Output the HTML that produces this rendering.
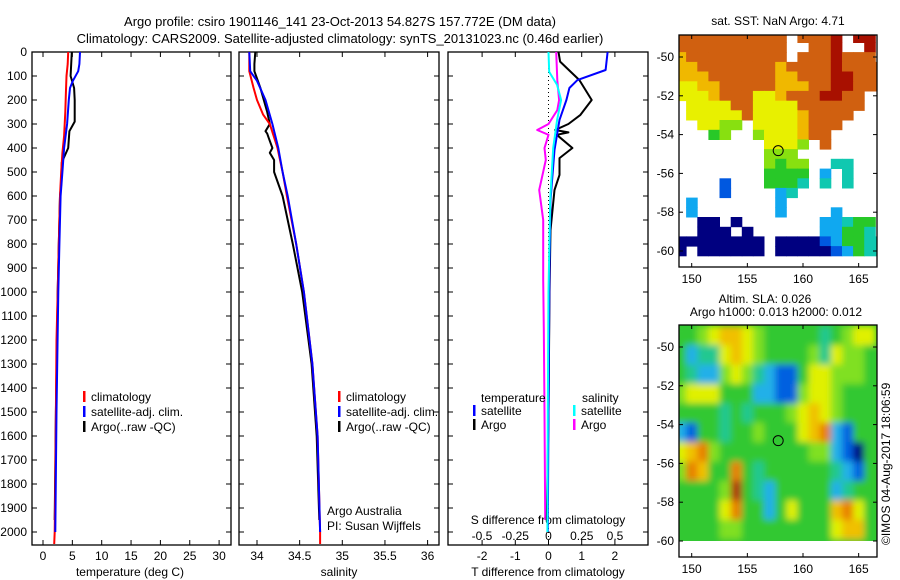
<!DOCTYPE html>
<html><head><meta charset="utf-8">
<style>
body{margin:0;background:#fff;}
svg{display:block;font-family:"Liberation Sans",sans-serif;font-size:12px;}
text{fill:#000;}
</style></head>
<body>
<svg id="fig" width="900" height="580" viewBox="0 0 900 580" xmlns="http://www.w3.org/2000/svg">
<text x="340" y="26" text-anchor="middle" font-size="13">Argo profile: csiro 1901146_141 23-Oct-2013 54.827S 157.772E (DM data)</text>
<text x="340" y="43" text-anchor="middle" font-size="13">Climatology: CARS2009. Satellite-adjusted climatology: synTS_20131023.nc (0.46d earlier)</text>
<g id="g1"></g>
<g id="g2"></g>
<g id="g3"></g>
<g id="g4"></g>
<g id="g5"></g>
<text transform="translate(890,545) rotate(-90)" font-size="12">©IMOS 04-Aug-2017 18:06:59</text>
</svg>
<script>
// ---- data ----
const tempClimDepth=[0,50,100,170,250,350,420,500,600,800,1000,1200,1500,1800,2000,2050];
const tempClim=[4.3,4.2,4.0,3.9,3.8,3.6,3.3,3.1,2.9,2.7,2.5,2.3,2.2,2.1,2.0,1.9];
const tempSatDepth=[0,50,80,120,150,200,300,400,500,600,800,1000,1500,2000];
const tempSat=[6.3,6.2,6.0,5.1,4.6,4.4,4.1,3.6,3.3,3.0,2.8,2.6,2.3,2.1];
const tempArgoDepth=[0,50,100,150,200,290,330,400,460,550,600,800,1000,1500,1950];
const tempArgo=[4.9,4.8,4.7,5.3,5.4,5.4,4.5,4.3,3.2,3.1,2.9,2.7,2.5,2.2,2.0];
const salClimDepth=[0,80,150,200,260,300,400,500,600,800,1000,1300,1600,2000,2050];
const salClim=[33.91,33.91,33.96,34.0,34.07,34.15,34.24,34.3,34.35,34.46,34.55,34.65,34.71,34.74,34.74];
const salSatDepth=[0,80,120,200,300,400,500,600,800,1000,1300,1600,2000];
const salSat=[33.91,33.92,34.0,34.1,34.18,34.25,34.3,34.36,34.46,34.55,34.65,34.71,34.74];
const salArgoDepth=[0,50,80,100,150,200,250,300,330,340,360,400,420,450,500,600,800,1000,1300,1600,1950];
const salArgo=[33.98,33.97,33.97,33.99,34.04,34.08,34.12,34.15,34.1,34.12,34.14,34.18,34.15,34.2,34.2,34.3,34.42,34.53,34.64,34.7,34.73];
const dTSatDepth=[0,75,117,150,200,283,408,617,900,1500,2000];
const dTSat=[1.78,1.72,0.87,0.63,0.54,0.33,0.18,0.06,0.03,0.0,-0.02];
const dTArgoDepth=[0,40,117,200,262,300,325,335,345,400,442,512,575,742,1000,1500,1950];
const dTArgo=[0.3,0.35,0.93,1.3,0.96,0.6,0.2,0.6,0.25,0.72,0.33,0.33,0.18,0.06,0.03,0.0,-0.05];
const dSSatDepth=[0,83,137,200,283,400,617,1000,1500,2000];
const dSSat=[0,0.005,0.065,0.095,0.065,0.035,0.013,0.0,-0.005,-0.008];
const dSArgoDepth=[0,117,200,242,300,325,345,400,450,575,700,950,1150,1500,1950];
const dSArgo=[0.058,0.066,0.08,0.066,0.0,-0.085,0.0,-0.03,-0.02,-0.07,-0.04,-0.04,-0.035,-0.03,-0.025];
const depthTicks=[0,100,200,300,400,500,600,700,800,900,1000,1100,1200,1300,1400,1500,1600,1700,1800,1900,2000];
const tempTicks=[0,5,10,15,20,25,30];
const salTicks=[34,34.5,35,35.5,36];
const salTickLabels=["34","34.5","35","35.5","36"];
const dTTicks=[-2,-1,0,1,2];
const dSTicks=[-0.5,-0.25,0,0.25,0.5];
const dSTickLabels=["-0.5","-0.25","0","0.25","0.5"];
const mapLonTicks=[150,155,160,165];
const mapLatTicks=[-50,-52,-54,-56,-58,-60];
const sstRowsTopLat=-48.75;
const sstRows=[
"8888888888.8889.99.",
"8888888888..889..9.",
"7888888888.8889888.",
"7788888887888898888",
"7778888887788899888",
"6677888887778899888",
"66678886678889988..",
".6666886666888888..",
".666668666678888...",
"..6655.66667888....",
"...45..5666788.....",
"........6665.8.....",
"........555........",
"........5455..33...",
"........4444.2.3...",
"....1...4443.3.3...",
"....1....23........",
".2.......2.........",
".2.......2....2....",
"..00.0.......22344.",
"..000.0......22443.",
"00000000.0000124433",
"0.000000.0000012433",
"..................."];
const slaRows=[
"445677654444434566",
"423367654444536554",
"432256532114665554",
"566644422115665444",
"444434344456765444",
"214434454446782144",
"678544444444552104",
"587448434444443214",
"444459432444442344",
"444468442464447864",
"444455444444446774",
"444444444444444444"];
const argoLon=[157.772], argoLat=[-54.827];
const cmap=['#000080','#0058e0','#10a8f0','#10c8b0','#28c828','#88e010','#e8f000','#f0b800','#d06010','#a81000'];
const slamap=['#000080','#0060e0','#20b0e8','#20c890','#30c830','#80e020','#e0f000','#f0c000','#e88000','#b03010'];

// ---- helpers ----
const NS='http://www.w3.org/2000/svg';
function mk(tag,attrs,parent,txt){const e=document.createElementNS(NS,tag);for(const k in attrs)e.setAttribute(k,attrs[k]);if(txt!==undefined)e.textContent=txt;parent.appendChild(e);return e;}
const Y0=52,DPX=0.24,YB=545;
const yD=d=>Y0+d*DPX;
function panelFrame(g,x0,x1){
  const r=mk('rect',{x:x0,y:Y0,width:x1-x0,height:YB-Y0,fill:'none',stroke:'#000','stroke-width':1.3},g);
  
  
  depthTicks.forEach(d=>{
    const t=mk('line',{x1:x0,x2:x0+5,y1:yD(d),y2:yD(d),stroke:'#000'},g);
    
    
    const t2=mk('line',{x1:x1-5,x2:x1,y1:yD(d),y2:yD(d),stroke:'#000'},g);
    
    
  });
}
function line(g,depths,vals,xf,color,name,w){
  const pts=depths.map((d,i)=>xf(vals[i]).toFixed(1)+','+yD(d).toFixed(1)).join(' ');
  const p=mk('polyline',{points:pts,fill:'none',stroke:color,'stroke-width':w||2,'stroke-linejoin':'round'},g);
  
  
}
function legend(g,x,y,color,label,name){
  const m=mk('rect',{x:x,y:y-6,width:2.5,height:11,fill:color},g);
  
  
  const t=mk('text',{x:x+8,y:y+4},g,label);
  
  
}

// ---- panel 1 temperature ----
const g1=document.getElementById('g1');
const xT=t=>43+t*5.87;
panelFrame(g1,32,231);
depthTicks.forEach(d=>{const t=mk('text',{x:27,y:yD(d)+4,'text-anchor':'end'},g1,String(d));
  
  });
tempTicks.forEach(v=>{
  const l=mk('line',{x1:xT(v),x2:xT(v),y1:YB-5,y2:YB,stroke:'#000'},g1);
  
  
  const l2=mk('line',{x1:xT(v),x2:xT(v),y1:Y0,y2:Y0+5,stroke:'#000'},g1);
  
  
  const t=mk('text',{x:xT(v),y:560,'text-anchor':'middle'},g1,String(v));
  
  
});
{const t=mk('text',{x:130,y:576,'text-anchor':'middle'},g1,'temperature (deg C)');

}
line(g1,tempArgoDepth,tempArgo,xT,'#000','temp-argo-line');
line(g1,tempClimDepth,tempClim,xT,'#f00','temp-climatology-line');
line(g1,tempSatDepth,tempSat,xT,'#00f','temp-satellite-line');
legend(g1,83,397,'#f00','climatology','legend-climatology');
legend(g1,83,412,'#00f','satellite-adj. clim.','legend-satellite');
legend(g1,83,427,'#000','Argo(..raw -QC)','legend-argo');

// ---- panel 2 salinity ----
const g2=document.getElementById('g2');
const xS=s=>257+(s-34)*85.3;
panelFrame(g2,239,439);
salTicks.forEach((v,i)=>{
  const l=mk('line',{x1:xS(v),x2:xS(v),y1:YB-5,y2:YB,stroke:'#000'},g2);
  
  
  const l2=mk('line',{x1:xS(v),x2:xS(v),y1:Y0,y2:Y0+5,stroke:'#000'},g2);
  
  
  const t=mk('text',{x:xS(v),y:560,'text-anchor':'middle'},g2,salTickLabels[i]);
  
  
});
{const t=mk('text',{x:339,y:576,'text-anchor':'middle'},g2,'salinity');

}
line(g2,salArgoDepth,salArgo,xS,'#000','sal-argo-line');
line(g2,salClimDepth,salClim,xS,'#f00','sal-climatology-line');
line(g2,salSatDepth,salSat,xS,'#00f','sal-satellite-line');
legend(g2,338,397,'#f00','climatology','legend-climatology');
legend(g2,338,412,'#00f','satellite-adj. clim.','legend-satellite');
legend(g2,338,427,'#000','Argo(..raw -QC)','legend-argo');
{const t=mk('text',{x:327,y:515},g2,'Argo Australia');
 const t2=mk('text',{x:327,y:530},g2,'PI: Susan Wijffels');}

// ---- panel 3 differences ----
const g3=document.getElementById('g3');
const X0=548.5;
const xdT=v=>X0+v*33.2, xdS=v=>X0+v*133;
panelFrame(g3,448,648);
{const z=mk('line',{x1:X0,x2:X0,y1:Y0,y2:YB,stroke:'#000','stroke-dasharray':'1,3'},g3);
}
dTTicks.forEach(v=>{
  const l=mk('line',{x1:xdT(v),x2:xdT(v),y1:YB-5,y2:YB,stroke:'#000'},g3);
  
  
  const l2=mk('line',{x1:xdT(v),x2:xdT(v),y1:Y0,y2:Y0+5,stroke:'#000'},g3);
  
  
  const t=mk('text',{x:xdT(v),y:560,'text-anchor':'middle'},g3,String(v));
  
  
});
dSTicks.forEach((v,i)=>{
  const t=mk('text',{x:xdS(v),y:540,'text-anchor':'middle'},g3,dSTickLabels[i]);
  
  
});
{const t=mk('text',{x:548,y:576,'text-anchor':'middle'},g3,'T difference from climatology');

const t2=mk('text',{x:548,y:524,'text-anchor':'middle'},g3,'S difference from climatology');
}
line(g3,dSArgoDepth,dSArgo,xdS,'#f0f','s-diff-argo-line');
line(g3,dTArgoDepth,dTArgo,xdT,'#000','t-diff-argo-line');
line(g3,dTSatDepth,dTSat,xdT,'#00f','t-diff-satellite-line');
line(g3,dSSatDepth,dSSat,xdS,'#0ff','s-diff-satellite-line');
{const t=mk('text',{x:481,y:402},g3,'temperature');
 const t2=mk('text',{x:582,y:402},g3,'salinity');}
legend(g3,473,411,'#00f','satellite','legend-t-satellite');
legend(g3,473,425,'#000','Argo','legend-t-argo');
legend(g3,573,411,'#0ff','satellite','legend-s-satellite');
legend(g3,573,425,'#f0f','Argo','legend-s-argo');

// ---- maps ----
const MX0=679,MX1=877;
const xLon=l=>691.7+(l-150)*11.13;
function drawMap(g,top,bottom,yLat,rows,rowTop,rowStep,colors,blur,name,bg){
  const id='clip'+name;
  const defs=mk('defs',{},g);
  const cp=mk('clipPath',{id:id},defs);
  mk('rect',{x:MX0,y:top,width:MX1-MX0,height:bottom-top},cp);
  if(blur){const f=mk('filter',{id:'blur'+name,filterUnits:'userSpaceOnUse',x:MX0-40,y:top-40,width:MX1-MX0+80,height:bottom-top+80},defs);mk('feGaussianBlur',{stdDeviation:blur},f);}
  const cg=mk('g',{'clip-path':'url(#'+id+')'},g);
  if(bg){const b=mk('rect',{x:MX0,y:top,width:MX1-MX0,height:yLat(-60)-top,fill:bg},cg);}
  const inner=mk('g',blur?{filter:'url(#blur'+name+')'}:{},cg);
  rows.forEach((row,r)=>{
    const la=rowTop-r*rowStep;
    for(let c=0;c<row.length;c++){
      const ch=row[c];if(ch==='.')continue;
      const lo=148.5+c;
      const y1=yLat(la), y2=yLat(la-rowStep);
      const cell=mk('rect',{x:xLon(lo).toFixed(1),y:y1.toFixed(1),width:(11.13+0.5).toFixed(1),height:(y2-y1+0.5).toFixed(1),fill:colors[+ch]},inner);
      
      
    }
  });
  if(bg){const w=mk('rect',{x:MX0,y:yLat(-60),width:MX1-MX0,height:bottom-yLat(-60),fill:'#fff'},cg);}
  const fr=mk('rect',{x:MX0,y:top,width:MX1-MX0,height:bottom-top,fill:'none',stroke:'#000','stroke-width':1.3},g);
  
  mapLonTicks.forEach(v=>{
    const l=mk('line',{x1:xLon(v),x2:xLon(v),y1:bottom-4,y2:bottom,stroke:'#000'},g);
    
    const l2=mk('line',{x1:xLon(v),x2:xLon(v),y1:top,y2:top+4,stroke:'#000'},g);
    
    const t=mk('text',{x:xLon(v),y:bottom+16,'text-anchor':'middle'},g,String(v));
    
  });
  mapLatTicks.forEach(v=>{
    const l=mk('line',{x1:MX0,x2:MX0+4,y1:yLat(v),y2:yLat(v),stroke:'#000'},g);
    
    const l2=mk('line',{x1:MX1-4,x2:MX1,y1:yLat(v),y2:yLat(v),stroke:'#000'},g);
    
    const t=mk('text',{x:674,y:yLat(v)+4,'text-anchor':'end'},g,String(v));
    
  });
  const ci=mk('circle',{cx:xLon(argoLon[0]),cy:yLat(argoLat[0]),r:5,fill:'none',stroke:'#000','stroke-width':1},g);
  
}
const g4=document.getElementById('g4');
const yLat1=l=>57+(-50-l)*19.4;
drawMap(g4,35,267,yLat1,sstRows,sstRowsTopLat,0.5,cmap,0,'sst-map',null);
{const t=mk('text',{x:778,y:25,'text-anchor':'middle'},g4,'sat. SST: NaN Argo: 4.71');}
const g5=document.getElementById('g5');
const yLat2=l=>347+(-50-l)*19.4;
drawMap(g5,325,557,yLat2,slaRows,-48.9,1,slamap,3.5,'sla-map','#30c830');
{const t=mk('text',{x:765,y:303,'text-anchor':'middle'},g5,'Altim. SLA: 0.026');
 const t2=mk('text',{x:776,y:316,'text-anchor':'middle'},g5,'Argo h1000: 0.013 h2000: 0.012');}
</script>
</body></html>
